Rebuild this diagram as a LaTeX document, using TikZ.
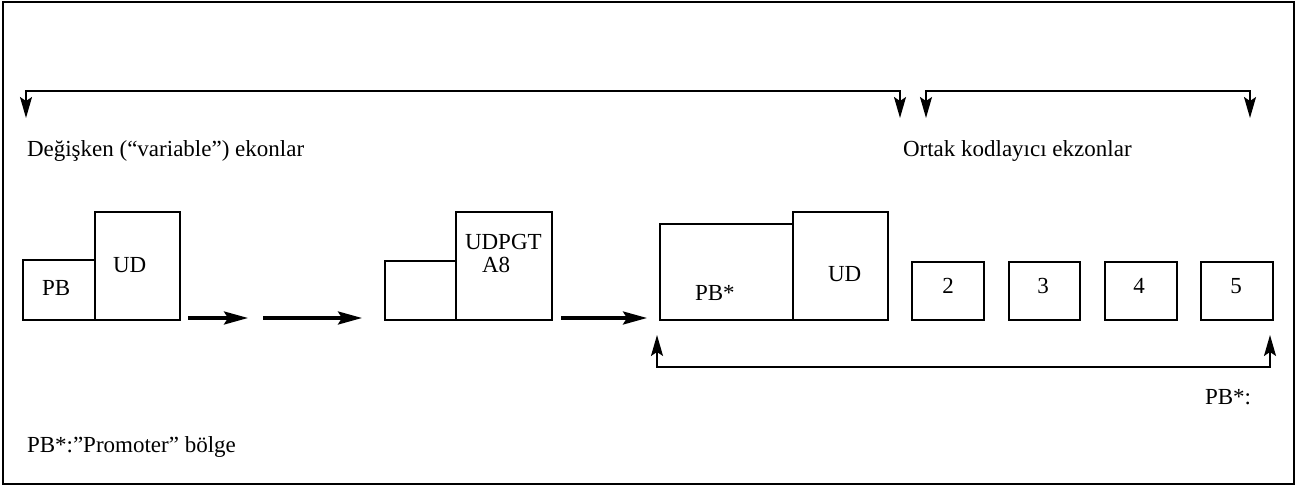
\documentclass[tikz,border=0pt]{standalone}
\usepackage{fontspec}
\setmainfont{Liberation Serif}
\usetikzlibrary{arrows.meta}
\begin{document}
\begin{tikzpicture}[x=0.5pt,y=-0.5pt,
  txt/.style={font=\fontsize{11.5}{14}\selectfont,inner sep=0pt,outer sep=0pt,anchor=base west},
  num/.style={font=\fontsize{11.5}{14}\selectfont,inner sep=0pt,outer sep=0pt,anchor=base},
  gbox/.style={draw,line width=0.9pt,inner sep=0pt,outer sep=0pt,anchor=north west},
  brk/.style={line width=0.9pt,{Stealth[length=10.5pt,width=6pt,inset=2pt]}-{Stealth[length=10.5pt,width=6pt,inset=2pt]}},
  harr/.style={line width=1.6pt,-{Stealth[length=12pt,width=6.5pt,inset=2pt]}}]
\useasboundingbox (0,0) rectangle (1301,486);
\draw[line width=1.2pt] (3,2) rectangle (1294,484);
% boxes
\node[gbox,minimum width=36pt,minimum height=30pt] (pb1) at (23,260) {};
\node[gbox,minimum width=42.5pt,minimum height=54pt] (ud1) at (95,212) {};
\node[gbox,minimum width=35.5pt,minimum height=29.5pt] (e1) at (385,261) {};
\node[gbox,minimum width=48pt,minimum height=54pt] (udp) at (456,212) {};
\node[gbox,minimum width=66.5pt,minimum height=48pt] (pbs) at (660,224) {};
\node[gbox,minimum width=47.5pt,minimum height=54pt] (ud2) at (793,212) {};
\node[gbox,minimum width=36pt,minimum height=29pt] (n2) at (912,262) {};
\node[gbox,minimum width=35.5pt,minimum height=29pt] (n3) at (1009,262) {};
\node[gbox,minimum width=36pt,minimum height=29pt] (n4) at (1105,262) {};
\node[gbox,minimum width=36pt,minimum height=29pt] (n5) at (1201,262) {};
% texts
\node[txt] (tpb) at (42,296) {PB};
\node[txt] (tud1) at (113,273) {UD};
\node[txt] (tudp) at (465,250) {UDPGT};
\node[txt] (ta8) at (482,273) {A8};
\node[txt] (tpbs) at (695,300) {PB*};
\node[txt] (tud2) at (828,282) {UD};
\node[num] (t2) at (948,293) {2};
\node[num] (t3) at (1043,293) {3};
\node[num] (t4) at (1139,293) {4};
\node[num] (t5) at (1236,293) {5};
\node[txt] (tvar) at (27,157) {Değişken (“variable”) ekonlar};
\node[txt] (tort) at (903,157) {Ortak kodlayıcı ekzonlar};
\node[txt] (tpbc) at (1205,404) {PB*:};
\node[txt] (tprom) at (27,452) {PB*:”Promoter” bölge};
% horizontal arrows
\coordinate (a1s) at (188,318); \coordinate (a1e) at (248,318);
\coordinate (a2s) at (263,318); \coordinate (a2e) at (362,318);
\coordinate (a3s) at (561,318); \coordinate (a3e) at (647,318);
\draw[harr] (a1s) -- (a1e);
\draw[harr] (a2s) -- (a2e);
\draw[harr] (a3s) -- (a3e);
% brackets
\coordinate (b1a) at (26,118); \coordinate (b1b) at (900,118);
\coordinate (b2a) at (926,118); \coordinate (b2b) at (1250,118);
\coordinate (b3a) at (657,335); \coordinate (b3b) at (1270,335);
\draw[brk] (b1a) -- (26,91) -- (900,91) -- (b1b);
\draw[brk] (b2a) -- (926,91) -- (1250,91) -- (b2b);
\draw[brk] (b3a) -- (657,367) -- (1270,367) -- (b3b);
\end{tikzpicture}
\end{document}
